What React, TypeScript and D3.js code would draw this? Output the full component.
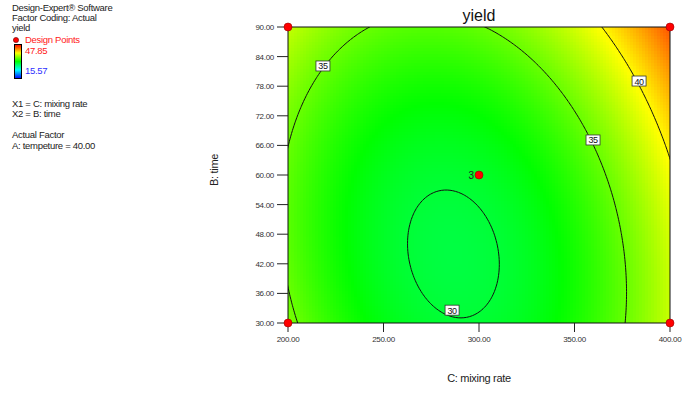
import React, { useMemo } from "react";
import * as d3 from "d3";

// Response-surface model for yield (coded factors: C = mixing rate, B = time)
const MODEL_TERMS = ["1", "C", "B", "CB", "C2", "B2"];
const MODEL_COEFS = [30.42, 2.44, 2.38, 1.2, 6.72, 2.08];

const X_TICKS = [200, 250, 300, 350, 400];
const Y_TICKS = [30, 36, 42, 48, 54, 60, 66, 72, 78, 84, 90];
const CONTOUR_LEVELS = [30, 35, 40];

// Contour label anchors (mixing rate, time) and the level they state
const LABEL_C = [218.3, 359.7, 383.8, 285.9];
const LABEL_B = [82.1, 67.1, 79.05, 32.6];
const LABEL_LEVEL = [35, 35, 40, 30];

// Design points
const POINT_C = [200, 400, 200, 400, 300];
const POINT_B = [30, 30, 90, 90, 60];
const POINT_REPS = [1, 1, 1, 1, 3];

const YIELD_MIN = 15.57;
const YIELD_MAX = 47.85;

const W = 684;
const H = 394;
const PL = 288, PR = 670, PT = 27, PB = 323;

const xScale = d3.scaleLinear().domain([200, 400]).range([PL, PR]);
const yScale = d3.scaleLinear().domain([30, 90]).range([PB, PT]);

function predict(c: number, b: number): number {
  const x1 = (c - 300) / 100;
  const x2 = (b - 60) / 30;
  const t = [1, x1, x2, x1 * x2, x1 * x1, x2 * x2];
  let s = 0;
  for (let i = 0; i < MODEL_TERMS.length; i++) s += MODEL_COEFS[i] * t[i];
  return s;
}

const colorStops = ["#0000ff", "#00ffff", "#00ff00", "#ffff00", "#ff0000"];
const colorScale = d3
  .scaleLinear<string>()
  .domain(colorStops.map((_, i) => YIELD_MIN + ((YIELD_MAX - YIELD_MIN) * i) / (colorStops.length - 1)))
  .range(colorStops)
  .interpolate(d3.interpolateRgb)
  .clamp(true);

const FONT = "'Liberation Sans', Arial, sans-serif";

export default function App() {
  const cells = useMemo(() => {
    const out: { x: number; y: number; w: number; h: number; fill: string }[] = [];
    const step = 3;
    for (let px = PL; px < PR; px += step) {
      const w = Math.min(step, PR - px);
      for (let py = PT; py < PB; py += step) {
        const h = Math.min(step, PB - py);
        const c = xScale.invert(px + w / 2);
        const b = yScale.invert(py + h / 2);
        out.push({ x: px, y: py, w, h, fill: colorScale(predict(c, b)) });
      }
    }
    return out;
  }, []);

  const contourPaths = useMemo(() => {
    // Sample beyond the plotted range so lines run cleanly off the frame
    const nx = 160, ny = 130;
    const c0 = 185, c1 = 415, b0 = 25, b1 = 95;
    const values = new Array(nx * ny);
    for (let j = 0; j < ny; j++) {
      for (let i = 0; i < nx; i++) {
        const c = c0 + ((c1 - c0) * i) / (nx - 1);
        const b = b0 + ((b1 - b0) * j) / (ny - 1);
        values[j * nx + i] = predict(c, b);
      }
    }
    const polys = d3.contours().size([nx, ny]).thresholds(CONTOUR_LEVELS)(values);
    const proj = d3.geoTransform({
      point(x: number, y: number) {
        const c = c0 + ((c1 - c0) * (x - 0.5)) / (nx - 1);
        const b = b0 + ((b1 - b0) * (y - 0.5)) / (ny - 1);
        (this as any).stream.point(xScale(c), yScale(b));
      },
    });
    const path = d3.geoPath(proj);
    return polys.map((p) => path(p as any) || "");
  }, []);

  const textStyle = { fontFamily: FONT, fontSize: 9.5, letterSpacing: -0.3 } as const;

  return (
    <svg width={W} height={H} style={{ position: "absolute", left: 0, top: 0, background: "#fff" }}>
      <defs>
        <clipPath id="plotClip">
          <rect x={PL} y={PT} width={PR - PL} height={PB - PT} />
        </clipPath>
        <linearGradient id="legendGrad" x1="0" y1="1" x2="0" y2="0">
          {colorStops.map((c, i) => (
            <stop key={i} offset={i / (colorStops.length - 1)} stopColor={c} />
          ))}
        </linearGradient>
      </defs>

      {/* Legend / info block */}
      <g style={textStyle} fill="#222">
        <text x={12} y={11}>Design-Expert® Software</text>
        <text x={12} y={21}>Factor Coding: Actual</text>
        <text x={12} y={31}>yield</text>
        <circle cx={16} cy={40} r={2.6} fill="#ff0000" stroke="#600" strokeWidth={0.6} />
        <text x={25} y={43} fill="#ff2020">Design Points</text>
        <rect x={14.5} y={44.5} width={7} height={34} fill="url(#legendGrad)" stroke="#000" strokeWidth={1} />
        <text x={25} y={54} fill="#ff2020">47.85</text>
        <text x={25} y={74} fill="#3030ff">15.57</text>
        <text x={12} y={107}>X1 = C: mixing rate</text>
        <text x={12} y={117}>X2 = B: time</text>
        <text x={12} y={138}>Actual Factor</text>
        <text x={12} y={149}>A: tempeture = 40.00</text>
      </g>

      {/* Title */}
      <text x={479} y={21} textAnchor="middle" style={{ fontFamily: FONT, fontSize: 16 }} fill="#111">
        yield
      </text>

      {/* Surface colour */}
      <g shapeRendering="crispEdges">
        {cells.map((d, i) => (
          <rect key={i} x={d.x} y={d.y} width={d.w} height={d.h} fill={d.fill} />
        ))}
      </g>

      {/* Contour lines */}
      <g clipPath="url(#plotClip)">
        {contourPaths.map((d, i) => (
          <path key={i} d={d} fill="none" stroke="#111" strokeWidth={1} />
        ))}
      </g>

      {/* Frame */}
      <rect x={PL} y={PT} width={PR - PL} height={PB - PT} fill="none" stroke="#111" strokeWidth={1} />

      {/* Contour labels */}
      {LABEL_LEVEL.map((lv, i) => {
        const cx = xScale(LABEL_C[i]);
        const cy = yScale(LABEL_B[i]);
        return (
          <g key={i}>
            <rect x={cx - 7} y={cy - 5} width={14} height={10} fill="#fff" stroke="#333" strokeWidth={0.8} />
            <text x={cx} y={cy + 3.5} textAnchor="middle" style={{ fontFamily: FONT, fontSize: 9, letterSpacing: -0.4 }} fill="#111">
              {lv}
            </text>
          </g>
        );
      })}

      {/* Y axis */}
      <g>
        {Y_TICKS.map((t) => (
          <g key={t}>
            <line x1={PL - 11} x2={PL} y1={yScale(t)} y2={yScale(t)} stroke="#222" strokeWidth={1} />
            <text x={PL - 14} y={yScale(t) + 3} textAnchor="end" style={{ fontFamily: FONT, fontSize: 8, letterSpacing: -0.3 }} fill="#333">
              {d3.format(".2f")(t)}
            </text>
          </g>
        ))}
      </g>

      {/* X axis */}
      <g>
        {X_TICKS.map((t) => (
          <g key={t}>
            <line x1={xScale(t)} x2={xScale(t)} y1={PB} y2={PB + 9} stroke="#222" strokeWidth={1} />
            <text x={xScale(t)} y={PB + 19} textAnchor="middle" style={{ fontFamily: FONT, fontSize: 8, letterSpacing: -0.3 }} fill="#333">
              {d3.format(".2f")(t)}
            </text>
          </g>
        ))}
      </g>

      {/* Axis titles */}
      <text x={479} y={382} textAnchor="middle" style={{ fontFamily: FONT, fontSize: 11, letterSpacing: -0.3 }} fill="#222">
        C: mixing rate
      </text>
      <text transform="translate(218,170) rotate(-90)" textAnchor="middle" style={{ fontFamily: FONT, fontSize: 11, letterSpacing: -0.3 }} fill="#222">
        B: time
      </text>

      {/* Design points */}
      {POINT_C.map((c, i) => (
        <g key={i}>
          <circle cx={xScale(c)} cy={yScale(POINT_B[i])} r={4} fill="#ff0000" stroke="#900" strokeWidth={0.6} />
          {POINT_REPS[i] > 1 && (
            <text x={xScale(c) - 5} y={yScale(POINT_B[i]) + 3.5} textAnchor="end" style={{ fontFamily: FONT, fontSize: 10 }} fill="#222">
              {POINT_REPS[i]}
            </text>
          )}
        </g>
      ))}
    </svg>
  );
}
